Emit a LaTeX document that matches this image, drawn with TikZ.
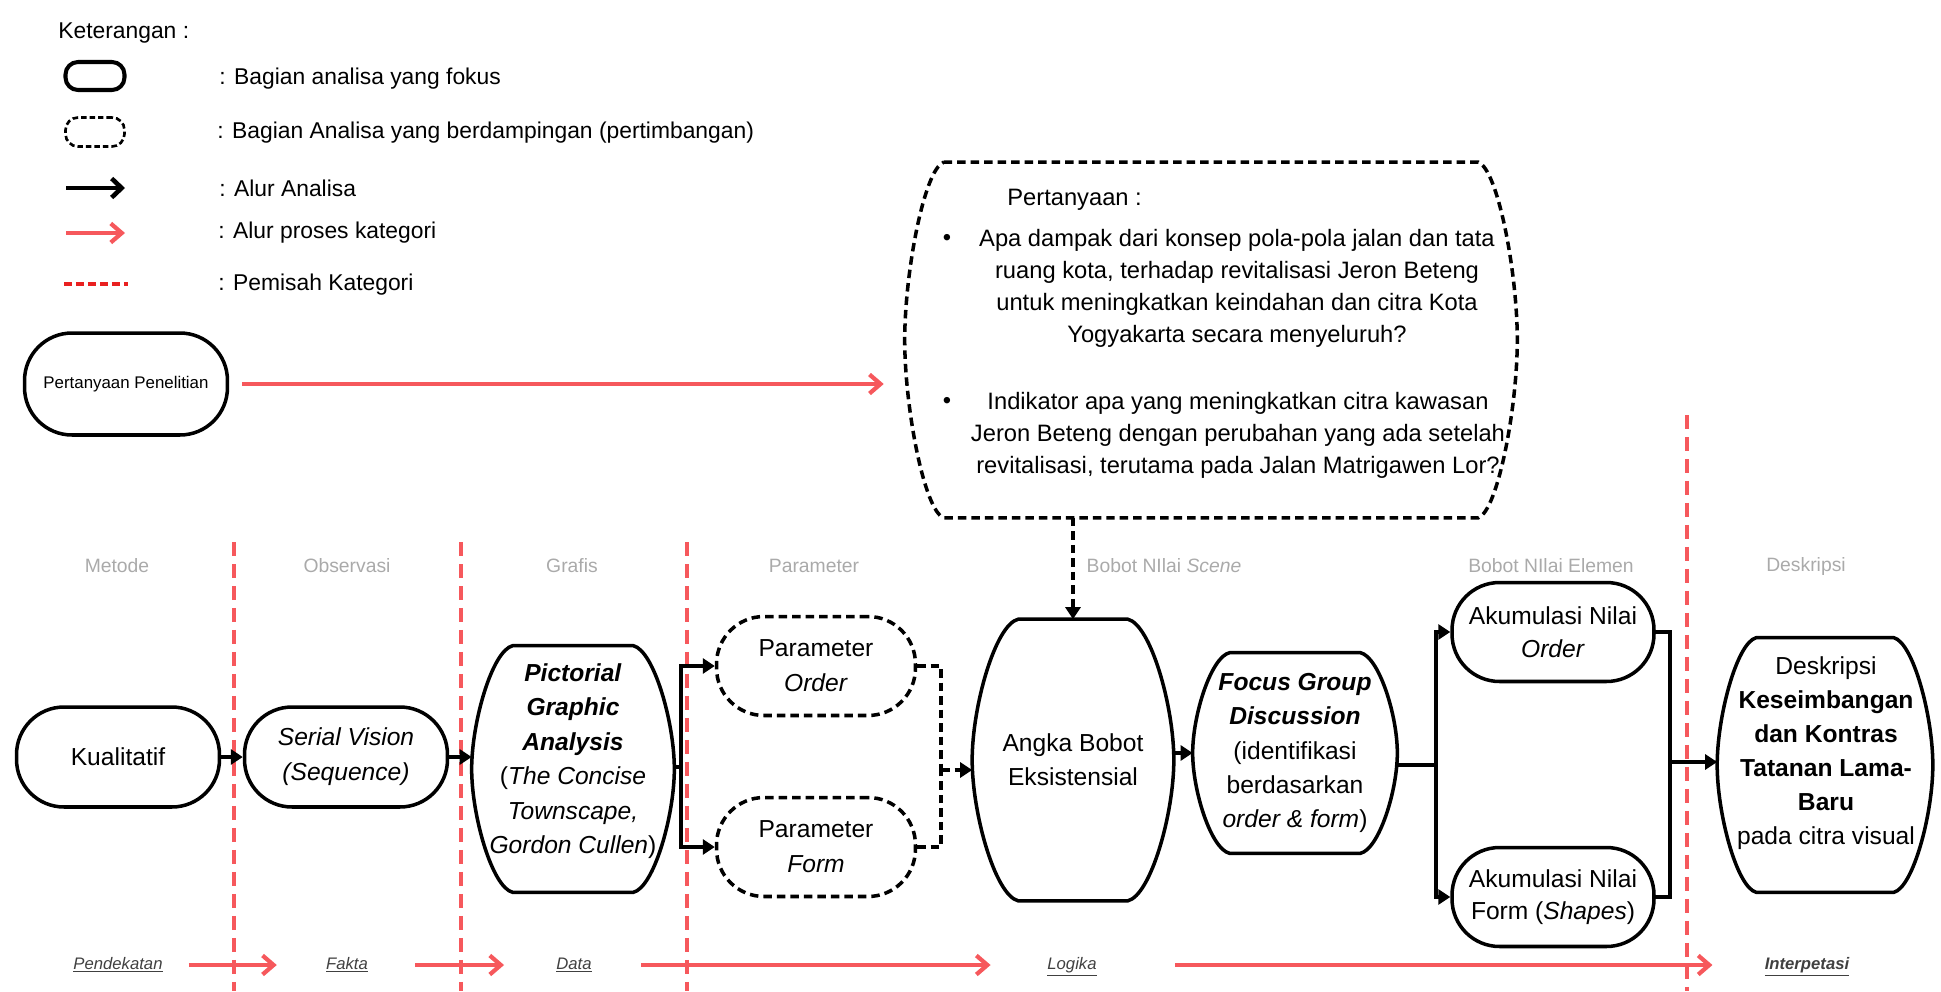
\documentclass[tikz,border=0pt]{standalone}
\usepackage{fontspec}
\setmainfont{Liberation Sans}
\usetikzlibrary{positioning,arrows.meta,calc}
\definecolor{FlowRed}{RGB}{246,88,92}
\definecolor{KeyRed}{RGB}{233,32,32}
\definecolor{CatGray}{RGB}{170,170,170}
\definecolor{TagGray}{RGB}{64,64,64}
\tikzset{
  boxline/.style={draw=black,line width=2pt,line join=round},
  dashboxline/.style={draw=black,line width=2pt,dash pattern=on 0.17cm off 0.1cm},
  stadium/.style={boxline,rounded corners=0.95cm,align=center,
    minimum width=4.06cm,minimum height=2cm,font=\fontsize{14}{20}\selectfont},
  dashstadium/.style={dashboxline,rounded corners=0.95cm,align=center,
    minimum width=3.98cm,minimum height=1.98cm,font=\fontsize{14}{19.8}\selectfont},
  barrelbox/.style={align=center,inner sep=0pt,font=\fontsize{14}{19.5}\selectfont},
  flow/.style={-{Triangle[length=0.24cm,width=0.3cm]},line width=2pt},
  flowline/.style={line width=2pt},
  dashflow/.style={-{Triangle[length=0.24cm,width=0.3cm]},line width=2pt,
    dash pattern=on 0.17cm off 0.1cm},
  dashline/.style={line width=2pt,dash pattern=on 0.17cm off 0.1cm},
  redflow/.style={-{Straight Barb[length=0.22cm,width=0.38cm]},line width=2.4pt,draw=FlowRed},
  separator/.style={line width=2pt,draw=FlowRed,dash pattern=on 0.28cm off 0.16cm},
  cat/.style={text=CatGray,font=\fontsize{11}{13}\selectfont},
  tag/.style={inner sep=0pt,text height=1.8ex,text depth=0.9ex,text=TagGray,
    font=\fontsize{9.5}{11}\selectfont\itshape},
  keytext/.style={anchor=west,inner sep=0pt,font=\fontsize{13}{15}\selectfont}
}
% outline with flat top/bottom and bulging sides
\newcommand{\barrelshape}[3][boxline]{%
  \draw[#1] ($(#2.north west)+(#3,0)$) -- ($(#2.north east)+(-#3,0)$)
    .. controls ($(#2.north east)!0.04!(#2.east)+(-#3/2,0)$) and ($(#2.east)!0.38!(#2.north east)$) .. (#2.east)
    .. controls ($(#2.east)!0.38!(#2.south east)$) and ($(#2.south east)!0.04!(#2.east)+(-#3/2,0)$) .. ($(#2.south east)+(-#3,0)$)
    -- ($(#2.south west)+(#3,0)$)
    .. controls ($(#2.south west)!0.04!(#2.west)+(#3/2,0)$) and ($(#2.west)!0.38!(#2.south west)$) .. (#2.west)
    .. controls ($(#2.west)!0.38!(#2.north west)$) and ($(#2.north west)!0.04!(#2.west)+(#3/2,0)$) .. ($(#2.north west)+(#3,0)$)
    -- cycle;}

\begin{document}
\begin{tikzpicture}[x=0.02cm,y=-0.02cm]
  \useasboundingbox (0,0) rectangle (1941,991);

  % kategori
  \draw[separator] (234,542) -- (234,991);
  \draw[separator] (461,542) -- (461,991);
  \draw[separator] (687,542) -- (687,991);
  \draw[separator] (1687,415) -- (1687,991);

  % keterangan
  \node[keytext] (ket) at (58,33) {Keterangan :};
  \node[boxline,line width=2.3pt,rounded corners=0.25cm,minimum width=1.18cm,
    minimum height=0.56cm] (keyfocus) at (95,76) {};
  \node[keytext] (keyfocustext) at (219,79) {: Bagian analisa yang fokus};
  \node[draw=black,line width=1.5pt,dash pattern=on 0.11cm off 0.06cm,rounded corners=0.25cm,
    minimum width=1.18cm,minimum height=0.58cm] (keyside) at (95,132) {};
  \node[keytext] (keysidetext) at (217,133) {: Bagian Analisa yang berdampingan (pertimbangan)};
  \coordinate (keyflowa) at (66,188);
  \coordinate (keyflowb) at (125,188);
  \draw[-{Straight Barb[length=0.2cm,width=0.38cm]},line width=2.6pt] (keyflowa) -- (keyflowb);
  \node[keytext] (keyflowtext) at (219,188) {: Alur Analisa};
  \coordinate (keyreda) at (66,233);
  \coordinate (keyredb) at (125,233);
  \draw[redflow] (keyreda) -- (keyredb);
  \node[keytext] (keyredtext) at (218,233) {: Alur proses kategori};
  \coordinate (keysepa) at (64,284);
  \coordinate (keysepb) at (128,284);
  \draw[draw=KeyRed,line width=2.4pt,dash pattern=on 0.16cm off 0.08cm] (keysepa) -- (keysepb);
  \node[keytext] (keyseptext) at (218,285) {: Pemisah Kategori};

  % pertanyaan
  \node[stadium,minimum height=2.04cm,font=\fontsize{9.6}{11}\selectfont] (pp) at (126,384)
    {Pertanyaan Penelitian};
  \node[barrelbox,minimum width=12.24cm,minimum height=7.1cm] (qbox) at (1211,340) {};
  \barrelshape[dashboxline]{qbox}{39}
  \node[anchor=west,inner sep=0pt,font=\fontsize{13.5}{18}\selectfont] (qhead) at (1007,200)
    {Pertanyaan :};
  \node[font=\fontsize{13.5}{18}\selectfont] (qdotone) at (947,240) {\textbullet};
  \node[align=center,font=\fontsize{13.5}{18.2}\selectfont] (qone) at (1237,288)
    {Apa dampak dari konsep pola-pola jalan dan tata\\
     ruang kota, terhadap revitalisasi Jeron Beteng\\
     untuk meningkatkan keindahan dan citra Kota\\
     Yogyakarta secara menyeluruh?};
  \node[font=\fontsize{13.5}{18}\selectfont] (qdottwo) at (947,403) {\textbullet};
  \node[align=center,font=\fontsize{13.5}{18.2}\selectfont] (qtwo) at (1238,435)
    {Indikator apa yang meningkatkan citra kawasan\\
     Jeron Beteng dengan perubahan yang ada setelah\\
     revitalisasi, terutama pada Jalan Matrigawen Lor?};

  % judul kolom
  \node[cat] (catmetode) at (117,566) {Metode};
  \node[cat] (catobs) at (347,566) {Observasi};
  \node[cat] (catgrafis) at (572,566) {Grafis};
  \node[cat] (catparam) at (814,566) {Parameter};
  \node[cat] (catscene) at (1164,566) {Bobot NIlai \textit{Scene}};
  \node[cat] (catelemen) at (1551,566) {Bobot NIlai Elemen};
  \node[cat] (catdesk) at (1806,566) {Deskripsi};

  % alur analisa
  \node[stadium] (kual) at (118,757) {Kualitatif};
  \node[stadium] (serial) at (346,757) {\textit{Serial Vision}\\\textit{(Sequence)}};
  \node[barrelbox,minimum width=4.04cm,minimum height=4.92cm] (pict) at (573,769) {};
  \barrelshape{pict}{41}
  \node[barrelbox,font=\fontsize{14}{19.6}\selectfont] (picttext) at (573,761)
    {\textbf{\textit{Pictorial}}\\\textbf{\textit{Graphic}}\\\textbf{\textit{Analysis}}\\
     (\textit{The Concise}\\\textit{Townscape,}\\\textit{Gordon Cullen})};
  \node[dashstadium] (pord) at (816,666) {Parameter\\\textit{Order}};
  \node[dashstadium] (pform) at (816,847) {Parameter\\\textit{Form}};
  \node[barrelbox,minimum width=4.02cm,minimum height=5.62cm,font=\fontsize{14}{19.3}\selectfont]
    (angka) at (1073,760) {Angka Bobot\\Eksistensial};
  \barrelshape{angka}{46}
  \node[barrelbox,minimum width=4.08cm,minimum height=4cm,font=\fontsize{14}{19.4}\selectfont]
    (fgd) at (1295,753)
    {\textbf{\textit{Focus Group}}\\\textbf{\textit{Discussion}}\\(identifikasi\\berdasarkan\\
     \textit{order \& form})};
  \barrelshape{fgd}{37}
  \node[stadium,minimum width=4.04cm,minimum height=1.98cm,font=\fontsize{14}{18.5}\selectfont]
    (akord) at (1553,632) {Akumulasi Nilai\\\textit{Order}};
  \node[stadium,minimum width=4.04cm,minimum height=1.98cm,font=\fontsize{14}{18.5}\selectfont]
    (akform) at (1553,897) {Akumulasi Nilai\\Form (\textit{Shapes})};
  \node[barrelbox,minimum width=4.3cm,minimum height=5.08cm] (desk) at (1825,765) {};
  \barrelshape{desk}{39}
  \node[barrelbox,font=\fontsize{14}{19.4}\selectfont] (desktext) at (1826,753)
    {Deskripsi\\\textbf{Keseimbangan}\\\textbf{dan Kontras}\\\textbf{Tatanan Lama-}\\
     \textbf{Baru}\\pada citra visual};

  \draw[redflow,shorten <=0.26cm,shorten >=0.42cm] (pp) -- (pp -| qbox.west);
  \draw[dashflow] (qbox.south -| angka) -- (angka);
  \draw[flow] (kual) -- (serial);
  \draw[flow] (serial) -- (serial -| pict.west);
  \coordinate (split) at (681,767);
  \draw[flowline] (pict.east |- split) -- (split);
  \draw[flow] (split) |- (pord);
  \draw[flow] (split) |- (pform);
  \coordinate (merge) at (941,770);
  \draw[dashline] (pord) -| (merge);
  \draw[dashline] (pform) -| (merge);
  \draw[dashflow] (merge) -- (merge -| angka.west);
  \draw[flow] (angka.east |- fgd) -- (fgd);
  \coordinate (splitb) at (1436,765);
  \draw[flowline] (fgd.east |- splitb) -- (splitb);
  \draw[flow] (splitb) |- (akord);
  \draw[flow] (splitb) |- (akform);
  \coordinate (mergeb) at (1670,762);
  \draw[flowline] (akord) -| (mergeb);
  \draw[flowline] (akform) -| (mergeb);
  \draw[flow] (mergeb) -- (mergeb -| desk.west);

  % alur kategori
  \node[tag] (pendek) at (118,965) {\underline{Pendekatan}};
  \node[tag] (fakta) at (347,965) {\underline{Fakta}};
  \node[tag] (data) at (574,965) {\underline{Data}};
  \node[tag] (logika) at (1072,965) {\underline{Logika}};
  \node[tag,font=\fontsize{9.5}{11}\selectfont\bfseries\itshape] (interp) at (1807,965)
    {\underline{Interpetasi}};
  \draw[redflow,shorten <=0.52cm,shorten >=0.98cm] (pendek) -- (fakta);
  \draw[redflow,shorten <=0.94cm,shorten >=1.04cm] (fakta) -- (data);
  \draw[redflow,shorten <=0.99cm,shorten >=1.13cm] (data) -- (logika);
  \draw[redflow,shorten <=1.57cm,shorten >=1.04cm] (logika) -- (interp);
\end{tikzpicture}
\end{document}
